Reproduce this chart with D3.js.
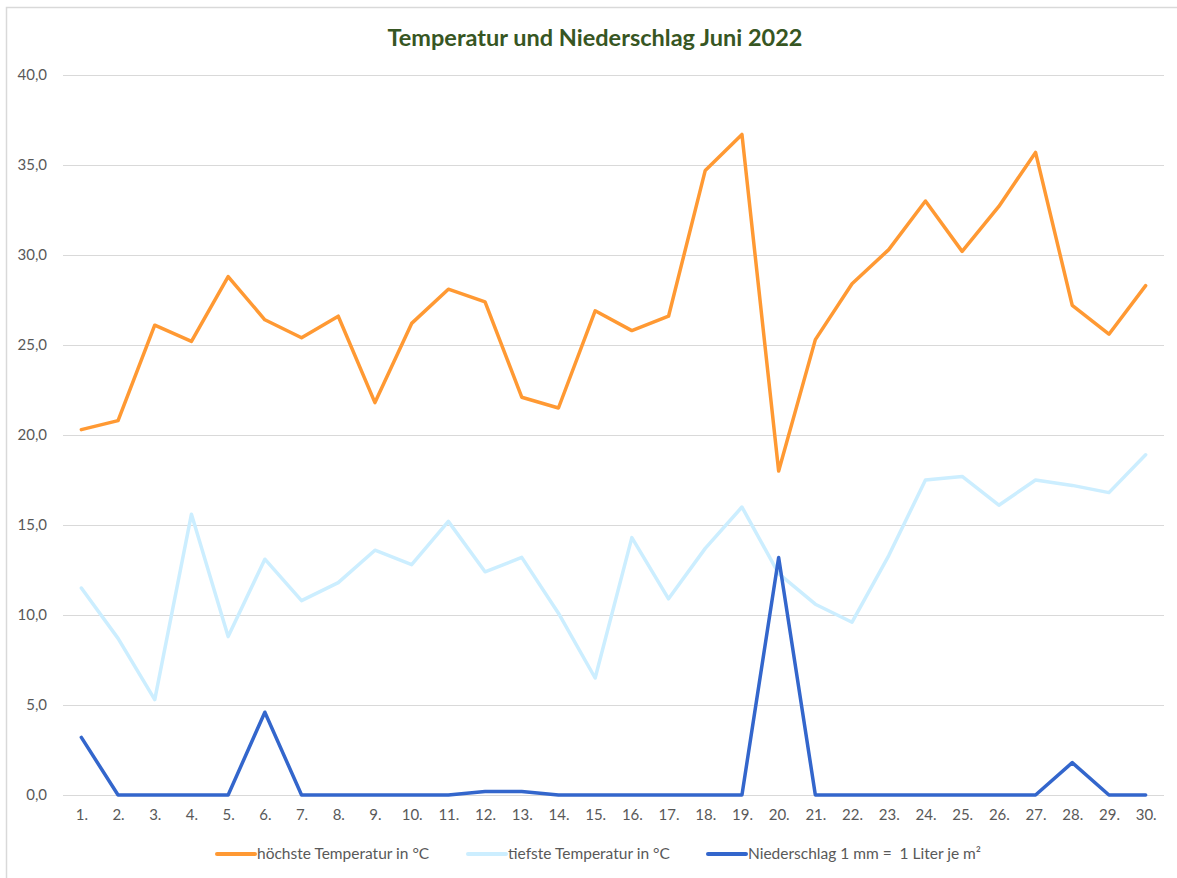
<!DOCTYPE html>
<meta charset="utf-8">
<style>
  body { margin: 0; background: #fff; }
  svg text { font-family: Lato, "Open Sans", sans-serif; }
</style>
<body>
<div id="chart"></div>
<script src="https://cdn.jsdelivr.net/npm/d3@7"></script>
<script>

// days of June 2022
var days = d3.range(1, 31).map(function(d) { return d + "."; });

// highest temperature per day (°C)
var tempMax = [20.3, 20.8, 26.1, 25.2, 28.8, 26.4, 25.4, 26.6, 21.8, 26.2,
               28.1, 27.4, 22.1, 21.5, 26.9, 25.8, 26.6, 34.7, 36.7, 18.0,
               25.3, 28.4, 30.3, 33.0, 30.2, 32.7, 35.7, 27.2, 25.6, 28.3];

// lowest temperature per day (°C)
var tempMin = [11.5, 8.7, 5.3, 15.6, 8.8, 13.1, 10.8, 11.8, 13.6, 12.8,
               15.2, 12.4, 13.2, 10.1, 6.5, 14.3, 10.9, 13.7, 16.0, 12.3,
               10.6, 9.6, 13.3, 17.5, 17.7, 16.1, 17.5, 17.2, 16.8, 18.9];

// precipitation per day (mm)
var rain = [3.2, 0, 0, 0, 0, 4.6, 0, 0, 0, 0,
            0, 0.2, 0.2, 0, 0, 0, 0, 0, 0, 13.2,
            0, 0, 0, 0, 0, 0, 0, 1.8, 0, 0];

var yTicks = [0, 5, 10, 15, 20, 25, 30, 35, 40];

var seriesNames = ["höchste Temperatur in °C", "tiefste Temperatur in °C", "Niederschlag 1 mm =  1 Liter je m²"];
var seriesColors = ["#FF9933", "#CCEEFF", "#3366CC"];

var W = 1177, H = 878;
var margin = {top: 75, right: 13, bottom: 83, left: 63};
var width = W - margin.left - margin.right,
    height = H - margin.top - margin.bottom;

var svg = d3.select("#chart")
  .append("svg")
    .attr("width", W)
    .attr("height", H);

// chart frame (only top and left edges visible in the picture)
svg.append("path")
  .attr("d", "M6.5," + H + "V7.5H" + W)
  .attr("fill", "none")
  .attr("stroke", "#d9d9d9")
  .attr("stroke-width", 1.5);

svg.append("text")
  .attr("x", 595)
  .attr("y", 46)
  .attr("text-anchor", "middle")
  .style("font-size", "23.5px")
  .style("font-weight", "bold")
  .style("fill", "#375623")
  .text("Temperatur und Niederschlag Juni 2022");

var g = svg.append("g")
  .attr("transform", "translate(" + margin.left + "," + margin.top + ")");

var x = d3.scalePoint()
  .domain(days)
  .range([0, width])
  .padding(0.5);

var y = d3.scaleLinear()
  .domain([0, 40])
  .range([height, 0]);

// gridlines + y labels
var yAxis = g.append("g")
  .call(d3.axisLeft(y).tickValues(yTicks).tickSize(-width).tickPadding(16)
    .tickFormat(function(d) { return d3.format(".1f")(d).replace(".", ","); }));
yAxis.select(".domain").remove();
yAxis.selectAll("line").attr("stroke", "#d9d9d9").attr("stroke-width", 1.2);
yAxis.selectAll("text").style("font-size", "15px").attr("fill", "#595959");

// x labels
var xAxis = g.append("g")
  .attr("transform", "translate(0," + height + ")")
  .call(d3.axisBottom(x).tickSize(0).tickPadding(14));
xAxis.select(".domain").remove();
xAxis.selectAll("text").style("font-size", "15px").attr("fill", "#595959");

var line = d3.line()
  .x(function(d, i) { return x(days[i]); })
  .y(function(d) { return y(d); });

[tempMax, tempMin, rain].forEach(function(s, i) {
  g.append("path")
    .datum(s)
    .attr("fill", "none")
    .attr("stroke", seriesColors[i])
    .attr("stroke-width", 3.5)
    .attr("stroke-linejoin", "round")
    .attr("stroke-linecap", "round")
    .attr("d", line);
});

// legend
var legendX = [217, 468, 708];
var legend = svg.append("g");
seriesNames.forEach(function(name, i) {
  var lg = legend.append("g").attr("transform", "translate(" + legendX[i] + ",854)");
  lg.append("line")
    .attr("x1", 0).attr("x2", 38)
    .attr("stroke", seriesColors[i])
    .attr("stroke-width", 4)
    .attr("stroke-linecap", "round");
  lg.append("text")
    .attr("x", 40)
    .attr("dy", "0.35em")
    .style("font-size", "15.5px")
    .style("white-space", "pre")
    .attr("fill", "#595959")
    .text(name);
});

</script>
</body>
